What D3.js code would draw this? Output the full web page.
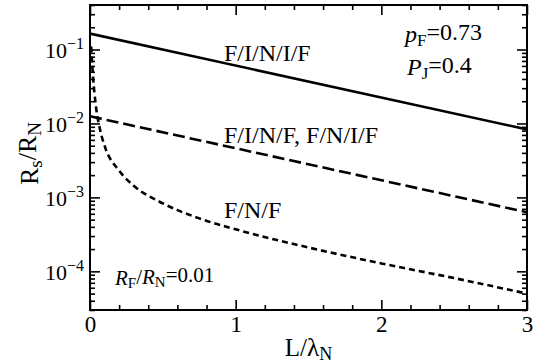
<!DOCTYPE html>
<html>
<head>
<meta charset="utf-8">
<script src="https://cdn.jsdelivr.net/npm/d3@7"></script>
<style>
  body { margin: 0; background: #fff; }
</style>
</head>
<body>
<div id="chart"></div>
<script>
// data
const xTicks = [0, 1, 2, 3];
const yTicks = [1e-4, 1e-3, 1e-2, 1e-1];
const yTickLabels = ["\u22124", "\u22123", "\u22122", "\u22121"];

// F/I/N/I/F and F/I/N/F are straight in log scale: endpoints
const finifX = [0, 3];
const finifY = [0.164, 0.0083];
const finfX = [0, 3];
const finfY = [0.0125, 0.00063];
// F/N/F rises steeply at small L
const fnfX = [0.008, 0.02, 0.04, 0.07, 0.1, 0.2, 0.3, 0.5, 0.75, 1.0, 1.5, 2.0, 2.5, 3.0];
const fnfY = [0.11, 0.045, 0.0175, 0.0081, 0.005, 0.0023, 0.00144, 0.00083, 0.00052, 0.00037, 0.00021, 0.000128, 0.000081, 0.00005];

const serif = '"Liberation Serif"';

function chart() {
  const width = 534;
  const height = 364;
  const marginLeft = 90;
  const marginRight = 7;
  const marginTop = 5;
  const marginBottom = 54;
  const chartWidth = width - marginLeft - marginRight;
  const chartHeight = height - marginTop - marginBottom;

  const svg = d3.select("#chart")
    .append("svg")
    .attr("width", width)
    .attr("height", height);

  const g = svg.append("g")
    .attr("transform", `translate(${marginLeft},${marginTop})`);

  const xScale = d3.scaleLinear().domain([0, 3]).range([0, chartWidth]);
  const yScale = d3.scaleLog().domain([3e-5, 0.4]).range([chartHeight, 0]);

  // minor ticks
  const xMinor = d3.range(0, 3.0001, 0.2).filter((d) => Math.abs(d - Math.round(d)) > 1e-6);
  const yMinor = [];
  for (let e = -5; e <= -1; e++) {
    for (let k = 2; k <= 9; k++) {
      const v = k * Math.pow(10, e);
      if (v >= 3e-5 && v <= 0.4) yMinor.push(v);
    }
  }

  // x axes (bottom + top), ticks pointing inward
  g.append("g")
    .attr("transform", `translate(0,${chartHeight})`)
    .call(d3.axisBottom(xScale).tickValues(xTicks).tickSize(-10).tickPadding(6).tickFormat(d3.format("d")))
    .call((a) => a.select(".domain").remove())
    .selectAll("text")
    .style("font-family", serif)
    .style("font-size", "23px")
    .attr("fill", "#000");

  g.append("g")
    .attr("transform", `translate(0,${chartHeight})`)
    .call(d3.axisBottom(xScale).tickValues(xMinor).tickSize(-5).tickFormat(""))
    .call((a) => a.select(".domain").remove());

  g.append("g")
    .call(d3.axisTop(xScale).tickValues(xTicks).tickSize(-10).tickFormat(""))
    .call((a) => a.select(".domain").remove());

  g.append("g")
    .call(d3.axisTop(xScale).tickValues(xMinor).tickSize(-5).tickFormat(""))
    .call((a) => a.select(".domain").remove());

  // y axes (left + right)
  const yLeft = g.append("g")
    .call(d3.axisLeft(yScale).tickValues(yTicks).tickSize(-10).tickFormat(""))
    .call((a) => a.select(".domain").remove());

  yLeft.selectAll(".tick")
    .append("text")
    .attr("x", -6)
    .attr("dy", "0.35em")
    .attr("text-anchor", "end")
    .attr("fill", "#000")
    .style("font-family", serif)
    .style("font-size", "22px")
    .each(function (d, i) {
      const t = d3.select(this);
      t.append("tspan").text("10");
      t.append("tspan").attr("dy", "-0.55em").style("font-size", "16px").text(yTickLabels[i]);
    });

  g.append("g")
    .call(d3.axisLeft(yScale).tickValues(yMinor).tickSize(-5).tickFormat(""))
    .call((a) => a.select(".domain").remove());

  g.append("g")
    .attr("transform", `translate(${chartWidth},0)`)
    .call(d3.axisRight(yScale).tickValues(yTicks).tickSize(-10).tickFormat(""))
    .call((a) => a.select(".domain").remove());

  g.append("g")
    .attr("transform", `translate(${chartWidth},0)`)
    .call(d3.axisRight(yScale).tickValues(yMinor).tickSize(-5).tickFormat(""))
    .call((a) => a.select(".domain").remove());

  g.selectAll(".tick line").attr("stroke", "#000").attr("stroke-width", 1.6);

  // clip for curves
  svg.append("clipPath").attr("id", "clip")
    .append("rect").attr("width", chartWidth).attr("height", chartHeight);

  const line = d3.line()
    .x((d) => xScale(d[0]))
    .y((d) => yScale(d[1]));

  const curves = g.append("g").attr("clip-path", "url(#clip)");

  curves.append("path")
    .datum(d3.zip(finifX, finifY))
    .attr("d", line)
    .attr("fill", "none")
    .attr("stroke", "#000")
    .attr("stroke-width", 2.6);

  curves.append("path")
    .datum(d3.zip(finfX, finfY))
    .attr("d", line)
    .attr("fill", "none")
    .attr("stroke", "#000")
    .attr("stroke-width", 2.6)
    .attr("stroke-dasharray", "12,5");

  curves.append("path")
    .datum(d3.zip(fnfX, fnfY))
    .attr("d", line.curve(d3.curveMonotoneX))
    .attr("fill", "none")
    .attr("stroke", "#000")
    .attr("stroke-width", 2.6)
    .attr("stroke-dasharray", "6,4");

  // frame
  g.append("rect")
    .attr("width", chartWidth)
    .attr("height", chartHeight)
    .attr("fill", "none")
    .attr("stroke", "#000")
    .attr("stroke-width", 2);

  function txt(x, y, size, anchor) {
    return svg.append("text")
      .attr("x", x)
      .attr("y", y)
      .attr("text-anchor", anchor || "start")
      .attr("fill", "#000")
      .style("font-family", serif)
      .style("font-size", size + "px");
  }

  // axis titles
  const xt = txt(marginLeft + chartWidth / 2, 356, 25, "middle");
  xt.append("tspan").text("L/\u03bb");
  xt.append("tspan").attr("dy", "0.22em").style("font-size", "18px").text("N");

  const yt = svg.append("text")
    .attr("transform", `translate(38,${marginTop + chartHeight / 2 - 4}) rotate(-90)`)
    .attr("text-anchor", "middle")
    .attr("fill", "#000")
    .style("font-family", serif)
    .style("font-size", "26px");
  yt.append("tspan").text("R");
  yt.append("tspan").attr("dy", "0.22em").style("font-size", "19px").text("s");
  yt.append("tspan").attr("dy", "-0.22em").text("/R");
  yt.append("tspan").attr("dy", "0.22em").style("font-size", "19px").text("N");

  // curve labels
  const labels = [
    { text: "F/I/N/I/F", x: 224, y: 61 },
    { text: "F/I/N/F, F/N/I/F", x: 224, y: 143 },
    { text: "F/N/F", x: 224, y: 218 }
  ];
  labels.forEach((d) => txt(d.x, d.y, 24).text(d.text));

  // parameters
  const pf = txt(405, 42, 24);
  pf.append("tspan").style("font-style", "italic").text("p");
  pf.append("tspan").attr("dy", "0.22em").style("font-size", "17px").text("F");
  pf.append("tspan").attr("dy", "-0.22em").text("=0.73");

  const pj = txt(407, 75, 24);
  pj.append("tspan").style("font-style", "italic").text("P");
  pj.append("tspan").attr("dy", "0.22em").style("font-size", "17px").text("J");
  pj.append("tspan").attr("dy", "-0.22em").text("=0.4");

  const rf = txt(115, 285, 21);
  rf.append("tspan").style("font-style", "italic").text("R");
  rf.append("tspan").attr("dy", "0.22em").style("font-size", "15px").text("F");
  rf.append("tspan").attr("dy", "-0.22em").text("/");
  rf.append("tspan").style("font-style", "italic").text("R");
  rf.append("tspan").attr("dy", "0.22em").style("font-size", "15px").text("N");
  rf.append("tspan").attr("dy", "-0.22em").text("=0.01");
}

chart();
</script>
</body>
</html>
